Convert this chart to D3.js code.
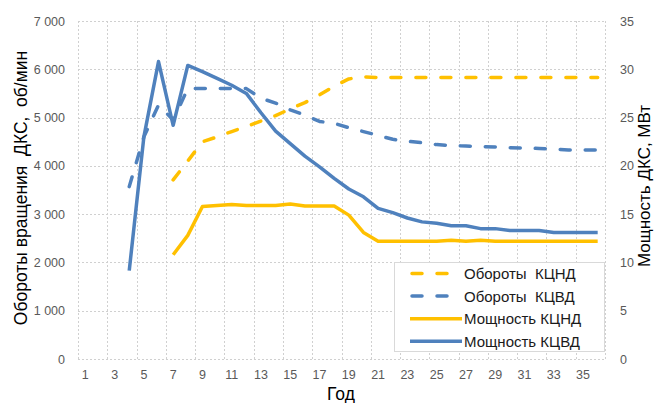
<!DOCTYPE html>
<html><head><meta charset="utf-8">
<script src="https://cdn.jsdelivr.net/npm/d3@7"></script>
<style>
html,body{margin:0;padding:0;background:#fff;}
svg{display:block;font-family:"Liberation Sans",Arial,sans-serif;}
</style></head>
<body><svg id="c" width="657" height="403"></svg>
<script>
const years = d3.range(1, 37);
const xTickLabels = d3.range(1, 37, 2);
const leftTicks = [0,1000,2000,3000,4000,5000,6000,7000];
const rightTicks = [0,5,10,15,20,25,30,35];

// Обороты КЦНД (об/мин), years 7..36
const rpmLPYears = d3.range(7, 37);
const rpmLP = [3710,4100,4500,4600,4710,4815,4930,5040,5180,5310,5470,5650,5800,5845,
  5830,5830,5830,5830,5830,5830,5830,5830,5830,5830,5830,5830,5830,5830,5830,5830];

// Обороты КЦВД (об/мин), years 4..36
const rpmHPYears = d3.range(4, 37);
const rpmHP = [3570,4600,5260,4950,5600,5600,5600,5600,5600,5400,5300,5160,5050,4920,4880,4790,
  4710,4630,4550,4510,4480,4440,4420,4410,4400,4390,4375,4370,4360,4350,4330,4330,4330];

// Мощность КЦНД (МВт), years 7..36
const powLPYears = d3.range(7, 37);
const powLP = [10.8,12.8,15.8,15.9,16.0,15.9,15.9,15.9,16.05,15.85,15.85,15.85,14.9,13.1,
  12.2,12.2,12.2,12.2,12.2,12.3,12.2,12.3,12.2,12.2,12.2,12.2,12.2,12.2,12.2,12.2];

// Мощность КЦВД (МВт), years 4..36
const powHPYears = d3.range(4, 37);
const powHP = [9.15,23.0,30.8,24.2,30.4,29.75,29.05,28.35,27.5,25.5,23.6,22.3,21.0,19.9,18.7,17.6,
  16.8,15.6,15.15,14.6,14.2,14.05,13.8,13.8,13.5,13.5,13.3,13.3,13.3,13.1,13.1,13.1,13.1];

const seriesNames = ["Обороты  КЦНД","Обороты  КЦВД","Мощность КЦНД","Мощность КЦВД"];
const colYellow = "#FFC000", colBlue = "#4F81BD";

const svg = d3.select("#c");
const L = 78, R = 605, T = 21, B = 359;

const x = d3.scaleBand().domain(years).range([L, R]);
const yL = d3.scaleLinear().domain([0, 7000]).range([B, T]);
const yR = d3.scaleLinear().domain([0, 35]).range([B, T]);

// grid
const grid = svg.append("g").attr("stroke", "#d0d0d0").attr("stroke-width", 1).attr("stroke-dasharray", "2,2");
leftTicks.forEach(v => {
  grid.append("line").attr("x1", L).attr("x2", R).attr("y1", Math.round(yL(v)) + 0.5).attr("y2", Math.round(yL(v)) + 0.5);
});
const vgrid = d3.range(1, 38, 2);
vgrid.forEach(c => {
  const xx = c <= 36 ? x(c) : R;
  grid.append("line").attr("x1", Math.round(xx) + 0.5).attr("x2", Math.round(xx) + 0.5).attr("y1", T).attr("y2", B);
});

// axes
const axL = svg.append("g").attr("transform", `translate(${L - 10},0)`)
  .call(d3.axisLeft(yL).tickValues(leftTicks).tickSize(0).tickFormat(d => d3.format(",")(d).replace(",", " ")));
const axR = svg.append("g").attr("transform", `translate(${R + 12},0)`)
  .call(d3.axisRight(yR).tickValues(rightTicks).tickSize(0));
const axB = svg.append("g").attr("transform", `translate(0,${B + 8})`)
  .call(d3.axisBottom(x).tickValues(xTickLabels).tickSize(0));
[axL, axR, axB].forEach(a => {
  a.select(".domain").remove();
  a.selectAll("text").attr("fill", "#595959").attr("font-size", 12.5).attr("font-family", "Liberation Sans, Arial, sans-serif");
});
axL.selectAll("text").attr("dx", 0);
axR.selectAll("text").attr("dx", 0);

// lines
const lineL = (ys, vals) => d3.line().x((d, i) => x(ys[i]) + x.bandwidth() / 2).y(d => yL(d))(vals);
const lineR = (ys, vals) => d3.line().x((d, i) => x(ys[i]) + x.bandwidth() / 2).y(d => yR(d))(vals);
const g = svg.append("g").attr("fill", "none").attr("stroke-width", 3.5).attr("stroke-linejoin", "round");
g.append("path").attr("d", lineR(powLPYears, powLP)).attr("stroke", colYellow);
g.append("path").attr("d", lineR(powHPYears, powHP)).attr("stroke", colBlue);
g.append("path").attr("d", lineL(rpmLPYears, rpmLP)).attr("stroke", colYellow).attr("stroke-dasharray", "10,15").attr("stroke-linecap", "round");
g.append("path").attr("d", lineL(rpmHPYears, rpmHP)).attr("stroke", colBlue).attr("stroke-dasharray", "10,15").attr("stroke-linecap", "round");

// titles
svg.append("text").attr("transform", `translate(27,188) rotate(-90)`).attr("text-anchor", "middle")
  .attr("font-size", 17.5).attr("fill", "#000").style("white-space", "pre").text("Обороты вращения  ДКС,  об/мин");
svg.append("text").attr("transform", `translate(650,186) rotate(-90)`).attr("text-anchor", "middle")
  .attr("font-size", 17).attr("fill", "#000").style("white-space", "pre").text("Мощность ДКС, МВт");
svg.append("text").attr("x", 341).attr("y", 400).attr("text-anchor", "middle")
  .attr("font-size", 17.5).attr("fill", "#000").text("Год");

// legend
const lg = svg.append("g");
lg.append("rect").attr("x", 394.5).attr("y", 262.5).attr("width", 210).attr("height", 89)
  .attr("fill", "#fff").attr("stroke", "#d9d9d9");
const styles = [
  {c: colYellow, dash: "10,15"}, {c: colBlue, dash: "10,15"}, {c: colYellow, dash: null}, {c: colBlue, dash: null}
];
seriesNames.forEach((n, i) => {
  const yy = 273.5 + i * 22.6;
  const ln = lg.append("line").attr("x1", i < 2 ? 412 : 410).attr("x2", i < 2 ? 460 : 462).attr("y1", yy).attr("y2", yy)
    .attr("stroke", styles[i].c).attr("stroke-width", 3.5);
  if (styles[i].dash) ln.attr("stroke-dasharray", "10,15").attr("stroke-linecap", "round");
  lg.append("text").attr("x", 464).attr("y", yy + 5.5).attr("font-size", 15).attr("fill", "#1a1a1a")
    .style("white-space", "pre").text(n);
});
</script></body></html>
